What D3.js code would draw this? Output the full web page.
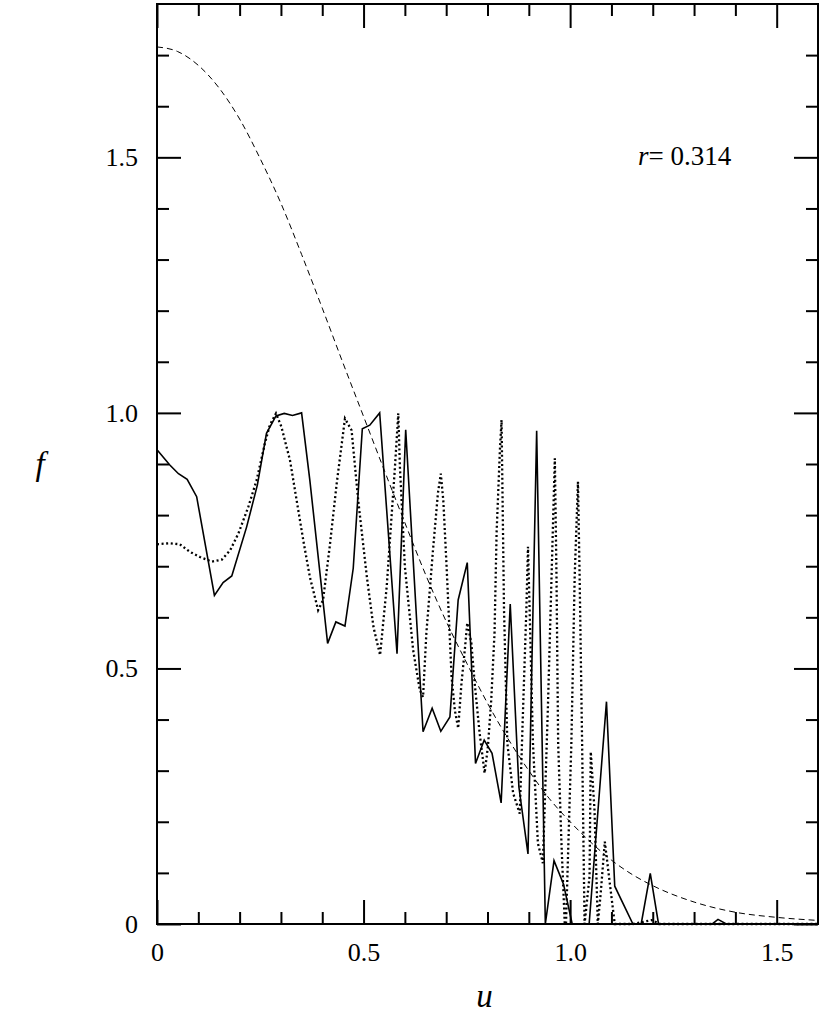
<!DOCTYPE html>
<html>
<head>
<meta charset="utf-8">
<script src="https://cdn.jsdelivr.net/npm/d3@7"></script>
<style>
    body { margin: 0; background: #ffffff; }
    svg text { font-family: "Liberation Serif", "Times New Roman", serif; fill: #000; }
</style>
</head>
<body>
<svg id="plot" width="830" height="1018"></svg>
<script>
// solid curve (u, f)
const solidU = [0.000, 0.031, 0.052, 0.073, 0.096, 0.139, 0.160, 0.181, 0.217, 0.243,
    0.265, 0.288, 0.308, 0.328, 0.350, 0.370, 0.413, 0.433, 0.455, 0.475,
    0.497, 0.515, 0.539, 0.581, 0.602, 0.644, 0.666, 0.687, 0.709, 0.729,
    0.751, 0.771, 0.792, 0.811, 0.833, 0.855, 0.876, 0.898, 0.919, 0.940,
    0.961, 0.984, 1.005, 1.046, 1.088, 1.108, 1.152, 1.172, 1.194, 1.214,
    1.344, 1.358, 1.378, 1.600];
const solidF = [0.928, 0.898, 0.881, 0.870, 0.836, 0.643, 0.668, 0.681, 0.777, 0.859,
    0.960, 0.994, 0.999, 0.995, 1.000, 0.868, 0.549, 0.591, 0.583, 0.696,
    0.969, 0.976, 1.000, 0.529, 0.967, 0.376, 0.422, 0.377, 0.405, 0.634,
    0.707, 0.314, 0.360, 0.334, 0.237, 0.626, 0.268, 0.137, 0.965, 0.000,
    0.124, 0.078, 0.000, 0.000, 0.435, 0.074, 0.000, 0.000, 0.099, 0.000,
    0.000, 0.009, 0.000, 0.000];

// dotted curve (u, f)
const dottedU = [0.000, 0.031, 0.055, 0.080, 0.104, 0.133, 0.157, 0.177, 0.197, 0.221,
    0.241, 0.261, 0.273, 0.288, 0.301, 0.322, 0.338, 0.354, 0.370, 0.390,
    0.402, 0.418, 0.435, 0.455, 0.471, 0.487, 0.508, 0.524, 0.540, 0.556,
    0.576, 0.584, 0.588, 0.600, 0.620, 0.636, 0.644, 0.652, 0.668, 0.680,
    0.687, 0.693, 0.701, 0.713, 0.721, 0.729, 0.737, 0.745, 0.751, 0.761,
    0.769, 0.781, 0.793, 0.801, 0.809, 0.817, 0.822, 0.830, 0.834, 0.840,
    0.848, 0.862, 0.878, 0.886, 0.894, 0.898, 0.902, 0.910, 0.922, 0.934,
    0.946, 0.955, 0.963, 0.967, 0.971, 0.979, 0.987, 0.990, 1.003, 1.011,
    1.019, 1.023, 1.029, 1.035, 1.047, 1.050, 1.059, 1.067, 1.074, 1.084,
    1.096, 1.108, 1.124, 1.152, 1.200, 1.215, 1.230, 1.600];
const dottedF = [0.743, 0.745, 0.743, 0.728, 0.718, 0.709, 0.713, 0.731, 0.764, 0.816,
    0.868, 0.940, 0.976, 0.999, 0.973, 0.907, 0.829, 0.751, 0.679, 0.614,
    0.634, 0.738, 0.862, 0.989, 0.966, 0.829, 0.679, 0.581, 0.526, 0.660,
    0.894, 0.999, 0.894, 0.699, 0.536, 0.458, 0.444, 0.569, 0.731, 0.843,
    0.881, 0.829, 0.699, 0.484, 0.418, 0.383, 0.471, 0.536, 0.589, 0.549,
    0.471, 0.373, 0.295, 0.347, 0.438, 0.569, 0.765, 0.927, 0.986, 0.614,
    0.354, 0.256, 0.216, 0.418, 0.614, 0.738, 0.614, 0.354, 0.158, 0.119,
    0.418, 0.679, 0.911, 0.679, 0.354, 0.158, 0.000, 0.000, 0.354, 0.679,
    0.865, 0.679, 0.354, 0.000, 0.093, 0.337, 0.223, 0.000, 0.060, 0.161,
    0.080, 0.000, 0.000, 0.000, 0.008, 0.000, 0.000, 0.000];

// dashed reference curve (u, f)
const dashedU = [0.000, 0.050, 0.100, 0.150, 0.200, 0.250, 0.300, 0.350, 0.400,
    0.450, 0.500, 0.550, 0.600, 0.650, 0.700, 0.750, 0.800, 0.850, 0.900,
    0.950, 1.000, 1.050, 1.100, 1.150, 1.200, 1.300, 1.400, 1.500, 1.600];
const dashedF = [1.716, 1.707, 1.680, 1.636, 1.575, 1.497, 1.410, 1.310, 1.205,
    1.098, 0.993, 0.888, 0.785, 0.684, 0.592, 0.510, 0.432, 0.362, 0.300,
    0.245, 0.200, 0.160, 0.125, 0.097, 0.075, 0.043, 0.023, 0.013, 0.007];

const majorTicks = [0, 0.5, 1.0, 1.5];
const xMinorTicks = [0.1, 0.2, 0.3, 0.4, 0.6, 0.7, 0.8, 0.9, 1.1, 1.2, 1.3, 1.4];
const yMinorTicks = [0.1, 0.2, 0.3, 0.4, 0.6, 0.7, 0.8, 0.9, 1.1, 1.2, 1.3, 1.4, 1.6, 1.7];
const tickLabels = ['0', '0.5', '1.0', '1.5'];

// plot box in pixels (note: "top" is reserved on window, so use other names)
var plotLeft = 157, plotRight = 818, plotTop = 4, plotBottom = 924;

var svg = d3.select('#plot');

var x = d3.scaleLinear().domain([0, 1.6]).range([plotLeft, plotRight]);
var y = d3.scaleLinear().domain([0, 1.8]).range([plotBottom, plotTop]);

var fmt = function (d) { return tickLabels[majorTicks.indexOf(d)]; };

// Axes, ticks pointing inward on every side
function addAxis(axisFn, scale, pos, minor, labelled) {
    var major = axisFn(scale).tickValues(majorTicks).tickSize(-24).tickPadding(19)
        .tickFormat(labelled ? fmt : '');
    var small = axisFn(scale).tickValues(minor).tickSize(-12).tickFormat('');

    [major, small].forEach(function (ax) {
        var g = svg.append('g').attr('transform', pos).call(ax);
        g.select('.domain').remove();
        g.selectAll('line').attr('stroke', '#000').attr('stroke-width', 2);
        g.selectAll('text').style('font-size', '26px').attr('fill', '#000');
    });
}

addAxis(d3.axisBottom, x, 'translate(0,' + plotBottom + ')', xMinorTicks, true);
addAxis(d3.axisTop, x, 'translate(0,' + plotTop + ')', xMinorTicks, false);
addAxis(d3.axisLeft, y, 'translate(' + plotLeft + ',0)', yMinorTicks, true);
addAxis(d3.axisRight, y, 'translate(' + plotRight + ',0)', yMinorTicks, false);

var line = d3.line()
    .x(function (d) { return x(d[0]); })
    .y(function (d) { return y(d[1]); });

var dashed = d3.zip(dashedU, dashedF);
var dotted = d3.zip(dottedU, dottedF);
var solid = d3.zip(solidU, solidF);

svg.append('path')
    .datum(dashed)
    .attr('fill', 'none')
    .attr('stroke', '#000')
    .attr('stroke-width', 1)
    .attr('stroke-dasharray', '6,4')
    .attr('d', line.curve(d3.curveMonotoneX));

svg.append('path')
    .datum(dotted)
    .attr('fill', 'none')
    .attr('stroke', '#000')
    .attr('stroke-width', 2.3)
    .attr('stroke-dasharray', '2,2.6')
    .attr('d', line.curve(d3.curveLinear));

svg.append('path')
    .datum(solid)
    .attr('fill', 'none')
    .attr('stroke', '#000')
    .attr('stroke-width', 1.6)
    .attr('stroke-linejoin', 'miter')
    .attr('d', line.curve(d3.curveLinear));

// frame
svg.append('rect')
    .attr('x', plotLeft).attr('y', plotTop)
    .attr('width', plotRight - plotLeft).attr('height', plotBottom - plotTop)
    .attr('fill', 'none')
    .attr('stroke', '#000')
    .attr('stroke-width', 2);

// annotation
var note = svg.append('text')
    .attr('x', 638).attr('y', 165)
    .style('font-size', '27px');
note.append('tspan').style('font-style', 'italic').text('r');
note.append('tspan').text('= 0.314');

// axis titles
svg.append('text')
    .attr('x', 40).attr('y', 475)
    .attr('text-anchor', 'middle')
    .style('font-size', '33px')
    .style('font-style', 'italic')
    .text('f');

svg.append('text')
    .attr('x', (plotLeft + plotRight) / 2 - 3).attr('y', 1007)
    .attr('text-anchor', 'middle')
    .style('font-size', '33px')
    .style('font-style', 'italic')
    .text('u');
</script>
</body>
</html>
